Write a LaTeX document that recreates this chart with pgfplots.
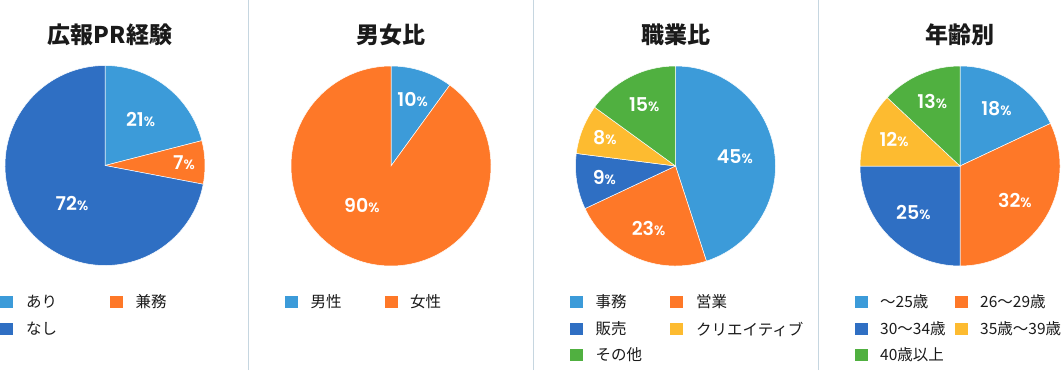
\documentclass[border=0pt]{standalone}
\usepackage{pgfplots}
\pgfplotsset{compat=1.18}
\usepackage{fontspec}
\setmainfont{Noto Sans CJK JP}
\newfontfamily\jp{Noto Sans CJK JP}
\newfontfamily\pop{Poppins}[UprightFont=* SemiBold]
\definecolor{cA}{HTML}{3C9BD9}
\definecolor{cB}{HTML}{FE7828}
\definecolor{cC}{HTML}{2F6FC3}
\definecolor{cD}{HTML}{FDBB30}
\definecolor{cE}{HTML}{50B040}
\definecolor{sep}{HTML}{C6D6E0}
\definecolor{txt}{HTML}{1A1A1A}
\newcommand\pct[1]{{\pop\fontsize{19}{19}\selectfont #1\fontsize{13.5}{13.5}\selectfont\%}}
\newcommand\drawpie[2]{%
\pgfplotsextra{%
  \gdef\cum{0}%
  \foreach \v/\c/\lr/\la in {#2} {%
    \pgfmathsetmacro\sa{90-3.6*\cum}%
    \pgfmathsetmacro\ea{90-3.6*(\cum+\v)}%
    \pgfmathsetmacro\ma{(\sa+\ea)/2+\la}%
    \fill[\c, draw=white, line width=0.5pt] (axis cs:#1) -- ++(\sa:100pt) arc[start angle=\sa, end angle=\ea, radius=100pt] -- cycle;
    \path (axis cs:#1) ++(\ma:\lr pt) node[text=white, inner sep=0pt] {\pct{\v}};
    \pgfmathsetmacro\nc{\cum+\v}\xdef\cum{\nc}%
  }%
}}
\newcommand\legitem[5]{% x, ycenter, color, text x, text
  \fill[#3] (axis cs:#1,#2) ++(0pt,-6.25pt) rectangle ++(12.5pt,12.5pt);
  \node[anchor=west, inner sep=0pt, text=txt, font=\jp\fontsize{15.5}{15.5}\selectfont] at (axis cs:#4,#2) {#5};
}
\newcommand\ttl[3]{\node[text=txt, inner sep=0pt, font=\jp\bfseries\fontsize{23}{23}\selectfont] at (axis cs:#1,#2) {#3};}
\begin{document}
\begin{tikzpicture}
\begin{axis}[x=1pt, y=1pt, xmin=0, xmax=1064, ymin=0, ymax=370, hide axis, scale only axis, clip=false, anchor=south west, at={(0,0)}]
% separators
\draw[sep, line width=1pt] (axis cs:248,0) -- (axis cs:248,370);
\draw[sep, line width=1pt] (axis cs:533,0) -- (axis cs:533,370);
\draw[sep, line width=1pt] (axis cs:818,0) -- (axis cs:818,370);
% titles
\ttl{110}{335}{広報PR経験}
\ttl{391}{335}{男女比}
\ttl{676}{335}{職業比}
\ttl{960}{335}{年齢別}
% pies: value/colour/label radius/label angle shift
\drawpie{105,204.5}{21/cA/58/0, 7/cB/79/0, 72/cC/50/9}
\drawpie{391,204}{10/cA/70/0, 90/cB/49/-18.6}
\drawpie{675.5,204}{45/cA/60/0, 23/cB/68/0, 9/cC/72/0, 8/cD/76/0, 15/cE/69/0}
\drawpie{960,204}{18/cA/68/0, 32/cB/65/0, 25/cC/66/0, 12/cD/71/0, 13/cE/70/0}
% legends
\legitem{0}{68}{cA}{26}{あり}
\legitem{110}{68}{cB}{135.5}{兼務}
\legitem{0}{41}{cC}{26}{なし}
\legitem{285}{68}{cA}{310.5}{男性}
\legitem{385}{68}{cB}{410}{女性}
\legitem{570}{68}{cA}{595.5}{事務}
\legitem{670}{68}{cB}{696}{営業}
\legitem{570}{41}{cC}{595.5}{販売}
\legitem{670}{41}{cD}{696}{クリエイティブ}
\legitem{570}{15}{cE}{595.5}{その他}
\legitem{855}{68}{cA}{880}{～25歳}
\legitem{955}{68}{cB}{980}{26～29歳}
\legitem{855}{41}{cC}{880}{30～34歳}
\legitem{955}{41}{cD}{980}{35歳～39歳}
\legitem{855}{15}{cE}{880}{40歳以上}
\end{axis}
\pgfresetboundingbox
\path[use as bounding box] (0,0) rectangle (1064pt,370pt);
\end{tikzpicture}
\end{document}
